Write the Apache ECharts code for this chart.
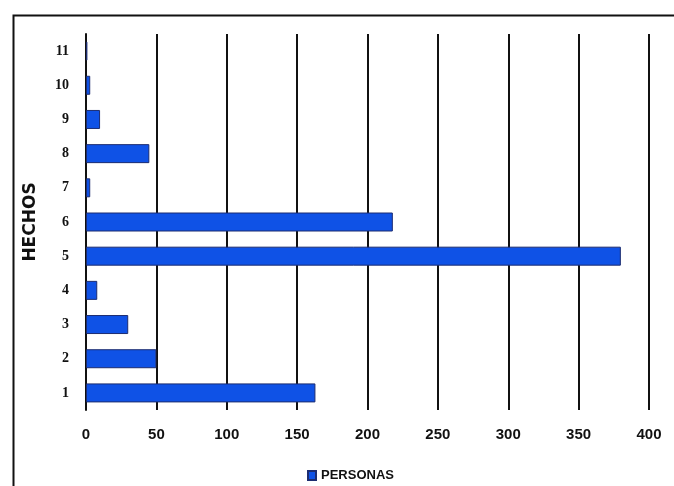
<!DOCTYPE html>
<html>
<head>
<meta charset="utf-8">
<script src="https://cdn.jsdelivr.net/npm/echarts@6/dist/echarts.min.js"></script>
<style>
html,body{margin:0;padding:0;background:#fff;}
#c{width:674px;height:486px;}
</style>
</head>
<body>
<div id="c"></div>
<script>
const categories = ['1','2','3','4','5','6','7','8','9','10','11'];
const personas = [163, 50, 30, 8, 380, 218, 3, 45, 10, 3, 1];
const xTicks = [0, 50, 100, 150, 200, 250, 300, 350, 400];
const seriesName = 'PERSONAS';
const axisName = 'HECHOS';

const chart = echarts.init(document.getElementById('c'));
chart.setOption({
  animation: false,
  backgroundColor: '#ffffff',
  graphic: [{
    type: 'rect',
    left: 11, top: 13,
    shape: { width: 700, height: 520 },
    style: { fill: 'none', stroke: '#111', lineWidth: 2 },
    silent: true
  }],
  grid: { left: 86, right: 25, top: 34, bottom: 76, containLabel: false },
  legend: {
    data: [{ name: seriesName, icon: 'rect' }],
    top: 464,
    left: 302,
    itemWidth: 8, itemHeight: 9, itemGap: 3,
    textStyle: { fontFamily: 'Liberation Sans', fontWeight: 'bold', fontSize: 13, color: '#111' }
  },
  xAxis: {
    type: 'value',
    min: xTicks[0], max: xTicks[xTicks.length - 1], interval: 50,
    axisLine: { show: false },
    axisTick: { show: false },
    splitLine: { show: true, lineStyle: { color: '#111', width: 2 } },
    axisLabel: { margin: 17, fontFamily: 'Liberation Sans', fontWeight: 'bold', fontSize: 15, color: '#111' }
  },
  yAxis: {
    type: 'category',
    data: categories,
    name: axisName,
    nameLocation: 'middle',
    nameGap: 47,
    nameRotate: 90,
    nameTextStyle: { fontFamily: 'DejaVu Sans', fontWeight: 'bold', fontSize: 17, color: '#111' },
    axisLine: { show: true, lineStyle: { color: '#111', width: 2 } },
    axisTick: { show: false },
    axisLabel: { margin: 17, fontFamily: 'Liberation Serif', fontWeight: 'bold', fontSize: 14, color: '#111' }
  },
  series: [{
    name: seriesName,
    type: 'bar',
    data: personas,
    barWidth: 19,
    itemStyle: { color: '#0f52e6', borderColor: '#1c2c70', borderWidth: 1 }
  }]
});
</script>
</body>
</html>
